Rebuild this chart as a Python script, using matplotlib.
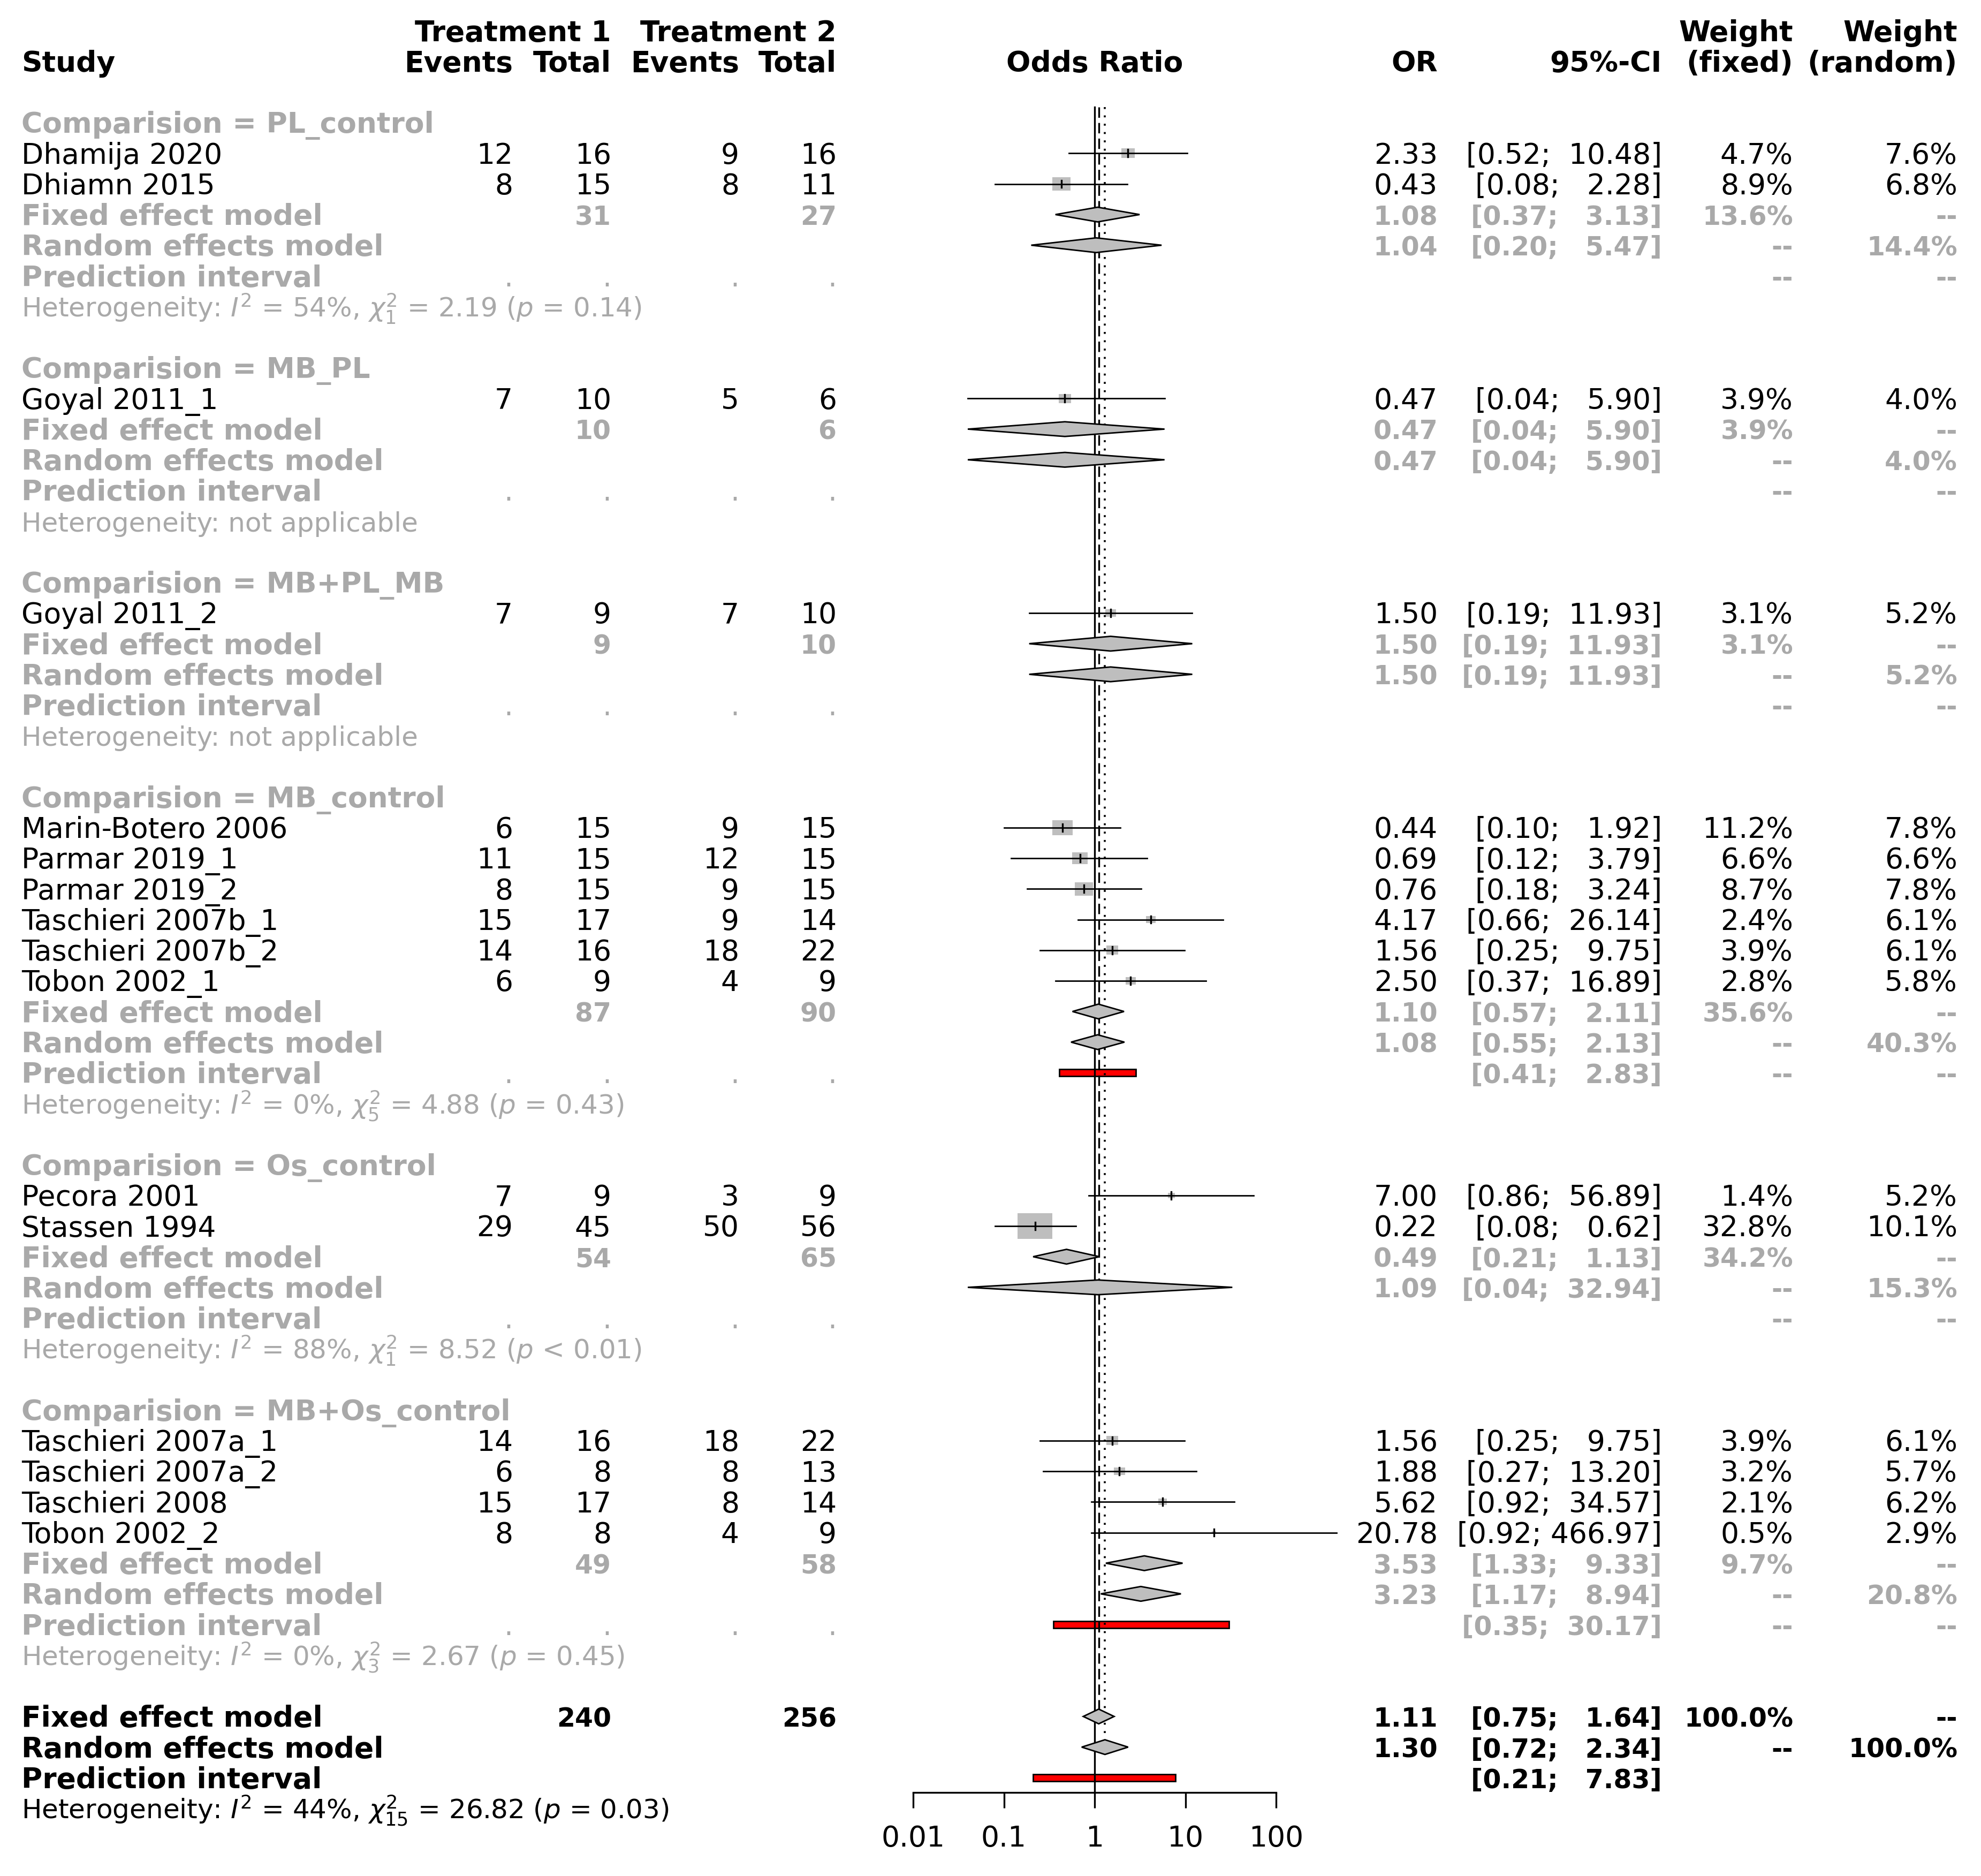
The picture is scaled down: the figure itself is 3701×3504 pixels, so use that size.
import numpy as np
import matplotlib.pyplot as plt
from matplotlib.patches import Polygon, Rectangle

plt.rcParams['font.family'] = 'DejaVu Sans'
plt.rcParams['mathtext.fontset'] = 'dejavusans'
plt.rcParams['lines.scale_dashes'] = False

# ! Study level data
groups = ["PL_control", "MB_PL", "MB+PL_MB", "MB_control", "Os_control", "MB+Os_control"]

studies = ["Dhamija 2020", "Dhiamn 2015", "Goyal 2011_1", "Goyal 2011_2",
           "Marin-Botero 2006", "Parmar 2019_1", "Parmar 2019_2", "Taschieri 2007b_1",
           "Taschieri 2007b_2", "Tobon 2002_1", "Pecora 2001", "Stassen 1994",
           "Taschieri 2007a_1", "Taschieri 2007a_2", "Taschieri 2008", "Tobon 2002_2"]
study_group = [0, 0, 1, 2, 3, 3, 3, 3, 3, 3, 4, 4, 5, 5, 5, 5]
events1 = [12, 8, 7, 7, 6, 11, 8, 15, 14, 6, 7, 29, 14, 6, 15, 8]
total1 = [16, 15, 10, 9, 15, 15, 15, 17, 16, 9, 9, 45, 16, 8, 17, 8]
events2 = [9, 8, 5, 7, 9, 12, 9, 9, 18, 4, 3, 50, 18, 8, 8, 4]
total2 = [16, 11, 6, 10, 15, 15, 15, 14, 22, 9, 9, 56, 22, 13, 14, 9]
odds = [2.33, 0.43, 0.47, 1.50, 0.44, 0.69, 0.76, 4.17, 1.56, 2.50, 7.00, 0.22, 1.56, 1.88, 5.62, 20.78]
ci_low = [0.52, 0.08, 0.04, 0.19, 0.10, 0.12, 0.18, 0.66, 0.25, 0.37, 0.86, 0.08, 0.25, 0.27, 0.92, 0.92]
ci_up = [10.48, 2.28, 5.90, 11.93, 1.92, 3.79, 3.24, 26.14, 9.75, 16.89, 56.89, 0.62, 9.75, 13.20, 34.57, 466.97]
w_fixed = [4.7, 8.9, 3.9, 3.1, 11.2, 6.6, 8.7, 2.4, 3.9, 2.8, 1.4, 32.8, 3.9, 3.2, 2.1, 0.5]
w_random = [7.6, 6.8, 4.0, 5.2, 7.8, 6.6, 7.8, 6.1, 6.1, 5.8, 5.2, 10.1, 6.1, 5.7, 6.2, 2.9]

# ! Subgroup summaries
grp_total1 = [31, 10, 9, 87, 54, 49]
grp_total2 = [27, 6, 10, 90, 65, 58]
grp_fixed = [1.08, 0.47, 1.50, 1.10, 0.49, 3.53]
grp_fixed_low = [0.37, 0.04, 0.19, 0.57, 0.21, 1.33]
grp_fixed_up = [3.13, 5.90, 11.93, 2.11, 1.13, 9.33]
grp_fixed_w = [13.6, 3.9, 3.1, 35.6, 34.2, 9.7]
grp_random = [1.04, 0.47, 1.50, 1.08, 1.09, 3.23]
grp_random_low = [0.20, 0.04, 0.19, 0.55, 0.04, 1.17]
grp_random_up = [5.47, 5.90, 11.93, 2.13, 32.94, 8.94]
grp_random_w = [14.4, 4.0, 5.2, 40.3, 15.3, 20.8]
grp_pred_low = [None, None, None, 0.41, None, 0.35]
grp_pred_up = [None, None, None, 2.83, None, 30.17]
grp_het = [r"$I^2$ = 54%, $\chi^2_1$ = 2.19 ($p$ = 0.14)",
           "not applicable",
           "not applicable",
           r"$I^2$ = 0%, $\chi^2_5$ = 4.88 ($p$ = 0.43)",
           r"$I^2$ = 88%, $\chi^2_1$ = 8.52 ($p$ < 0.01)",
           r"$I^2$ = 0%, $\chi^2_3$ = 2.67 ($p$ = 0.45)"]

# ! Overall summaries
all_total = [240, 256]
all_fixed = [1.11, 0.75, 1.64]
all_random = [1.30, 0.72, 2.34]
all_pred = [0.21, 7.83]
all_het = r"$I^2$ = 44%, $\chi^2_{15}$ = 26.82 ($p$ = 0.03)"

ticks = [0.01, 0.1, 1, 10, 100]
tick_labels = ["0.01", "0.1", "1", "10", "100"]

# ! Layout (pixels of the 3701x3504 canvas, rows of 57.25 px)
W, H = 3701, 3504
ROW0, STEP = 229, 57.25
X_STUDY, X_EV1, X_TOT1, X_EV2, X_TOT2 = 40, 958, 1142, 1381, 1563
X_OR, X_CI, X_WF, X_WR = 2686, 3105, 3350, 3657
F_LEFT, F_RIGHT = 1706, 2384
DEC_PX = (F_RIGHT - F_LEFT) / 4
FS = 38.5
FS_NUMB = FS * 0.914   # bold digits are wider in DejaVu, keep columns like the original
FS_HET = 36
BASE = 0.34
GREY = '#A9A9A9'
FILL = '#BEBEBE'

fig = plt.figure(figsize=(W / 100, H / 100), dpi=100)
ylim = ((H - ROW0) / STEP, -ROW0 / STEP)
ax = fig.add_axes([0, 0, 1, 1])
ax.set_xlim(0, W)
ax.set_ylim(*ylim)
ax.axis('off')

axf = fig.add_axes([F_LEFT / W, 0, (F_RIGHT - F_LEFT) / W, 1])
axf.set_xscale('log')
axf.set_xlim(0.01, 100)
axf.set_ylim(*ylim)
axf.patch.set_visible(False)


def txt(x, r, s, ha='right', bold=False, color='black', size=FS):
    ax.text(x, r + BASE, s, ha=ha, va='baseline', fontsize=size,
            fontweight='bold' if bold else 'normal', color=color)


def num_b(x, r, s, color='black'):
    txt(x, r, s, bold=True, color=color, size=FS_NUMB)


def ci_text(lo, hi):
    return "[%.2f; %6.2f]" % (lo, hi)


def diamond(est, lo, hi, r):
    axf.add_patch(Polygon([(lo, r), (est, r - 0.24), (hi, r), (est, r + 0.24)],
                          closed=True, facecolor=FILL, edgecolor='black',
                          linewidth=2.0, zorder=4, clip_on=False))


def pred_bar(lo, hi, r):
    axf.add_patch(Rectangle((lo, r - 0.11), hi - lo, 0.22, facecolor='red',
                            edgecolor='black', linewidth=2.0, zorder=1, clip_on=False))


# ! Header
for x, s in [(X_TOT1, "Treatment 1"), (X_TOT2, "Treatment 2"), (X_WF, "Weight"), (X_WR, "Weight")]:
    txt(x, -3, s, bold=True)
txt(X_STUDY, -2, "Study", ha='left', bold=True)
for x, s in [(X_EV1, "Events"), (X_TOT1, "Total"), (X_EV2, "Events"), (X_TOT2, "Total"),
             (X_OR, "OR"), (X_CI, "95%-CI"), (X_WF, "(fixed)"), (X_WR, "(random)")]:
    txt(x, -2, s, bold=True)
txt((F_LEFT + F_RIGHT) / 2, -2, "Odds Ratio", ha='center', bold=True)

# ! Subgroups
row = 0
for g in range(len(groups)):
    txt(X_STUDY, row, "Comparision = " + groups[g], ha='left', bold=True, color=GREY)
    row += 1
    for i in range(len(studies)):
        if study_group[i] != g:
            continue
        txt(X_STUDY, row, studies[i], ha='left')
        txt(X_EV1, row, str(events1[i]))
        txt(X_TOT1, row, str(total1[i]))
        txt(X_EV2, row, str(events2[i]))
        txt(X_TOT2, row, str(total2[i]))
        txt(X_OR, row, "%.2f" % odds[i])
        txt(X_CI, row, ci_text(ci_low[i], ci_up[i]))
        txt(X_WF, row, "%.1f%%" % w_fixed[i])
        txt(X_WR, row, "%.1f%%" % w_random[i])
        # square sized by fixed weight
        half_w = 11.35 * np.sqrt(w_fixed[i]) / 2 / DEC_PX
        half_h = 8.38 * np.sqrt(w_fixed[i]) / 2 / STEP
        x0, x1 = odds[i] * 10 ** -half_w, odds[i] * 10 ** half_w
        axf.add_patch(Rectangle((x0, row - half_h), x1 - x0, 2 * half_h,
                                facecolor=FILL, edgecolor='none', zorder=2, clip_on=False))
        axf.plot([ci_low[i], ci_up[i]], [row, row], color='black', lw=2.0, zorder=3, clip_on=False)
        axf.plot([odds[i], odds[i]], [row - 0.12, row + 0.12], color='black', lw=2.4,
                 zorder=3.5, clip_on=False)
        row += 1

    txt(X_STUDY, row, "Fixed effect model", ha='left', bold=True, color=GREY)
    num_b(X_TOT1, row, str(grp_total1[g]), GREY)
    num_b(X_TOT2, row, str(grp_total2[g]), GREY)
    num_b(X_OR, row, "%.2f" % grp_fixed[g], GREY)
    num_b(X_CI, row, ci_text(grp_fixed_low[g], grp_fixed_up[g]), GREY)
    num_b(X_WF, row, "%.1f%%" % grp_fixed_w[g], GREY)
    num_b(X_WR, row, "--", GREY)
    diamond(grp_fixed[g], grp_fixed_low[g], grp_fixed_up[g], row)
    row += 1

    txt(X_STUDY, row, "Random effects model", ha='left', bold=True, color=GREY)
    num_b(X_OR, row, "%.2f" % grp_random[g], GREY)
    num_b(X_CI, row, ci_text(grp_random_low[g], grp_random_up[g]), GREY)
    num_b(X_WF, row, "--", GREY)
    num_b(X_WR, row, "%.1f%%" % grp_random_w[g], GREY)
    diamond(grp_random[g], grp_random_low[g], grp_random_up[g], row)
    row += 1

    txt(X_STUDY, row, "Prediction interval", ha='left', bold=True, color=GREY)
    for x in [X_EV1, X_TOT1, X_EV2, X_TOT2]:
        txt(x, row, ".", color=GREY)
    if grp_pred_low[g] is not None:
        num_b(X_CI, row, ci_text(grp_pred_low[g], grp_pred_up[g]), GREY)
        pred_bar(grp_pred_low[g], grp_pred_up[g], row)
    num_b(X_WF, row, "--", GREY)
    num_b(X_WR, row, "--", GREY)
    row += 1

    txt(X_STUDY, row, "Heterogeneity: " + grp_het[g], ha='left', color=GREY, size=FS_HET)
    row += 2

# ! Overall
txt(X_STUDY, row, "Fixed effect model", ha='left', bold=True)
num_b(X_TOT1, row, str(all_total[0]))
num_b(X_TOT2, row, str(all_total[1]))
num_b(X_OR, row, "%.2f" % all_fixed[0])
num_b(X_CI, row, ci_text(all_fixed[1], all_fixed[2]))
num_b(X_WF, row, "100.0%")
num_b(X_WR, row, "--")
diamond(all_fixed[0], all_fixed[1], all_fixed[2], row)
fixed_row = row
row += 1

txt(X_STUDY, row, "Random effects model", ha='left', bold=True)
num_b(X_OR, row, "%.2f" % all_random[0])
num_b(X_CI, row, ci_text(all_random[1], all_random[2]))
num_b(X_WF, row, "--")
num_b(X_WR, row, "100.0%")
diamond(all_random[0], all_random[1], all_random[2], row)
random_row = row
row += 1

txt(X_STUDY, row, "Prediction interval", ha='left', bold=True)
num_b(X_CI, row, ci_text(all_pred[0], all_pred[1]))
pred_bar(all_pred[0], all_pred[1], row)
axis_y = row + 0.48
row += 1

txt(X_STUDY, row, "Heterogeneity: " + all_het, ha='left', size=FS_HET)

# ! Reference lines
axf.plot([1, 1], [-0.5, axis_y], color='black', lw=2.4, zorder=2.5, clip_on=False)
axf.plot([all_fixed[0]] * 2, [-0.5, fixed_row - 0.24], color='black', lw=2.4,
         ls=(0, (14, 7)), zorder=2.5, clip_on=False)
axf.plot([all_random[0]] * 2, [-0.5, random_row - 0.24], color='black', lw=2.6,
         ls=(0, (2.6, 8.6)), zorder=2.5, clip_on=False)

# ! Bottom axis
for s in ['top', 'left', 'right']:
    axf.spines[s].set_visible(False)
axf.spines['bottom'].set_position(('data', axis_y))
axf.spines['bottom'].set_bounds(0.01, 100)
axf.spines['bottom'].set_linewidth(2.4)
axf.set_xticks(ticks)
axf.set_xticklabels(tick_labels)
axf.xaxis.set_minor_locator(plt.NullLocator())
axf.tick_params(axis='x', direction='out', length=21, width=2.4, pad=22, labelsize=FS)
axf.set_yticks([])

fig.savefig('out.png', dpi=100)
